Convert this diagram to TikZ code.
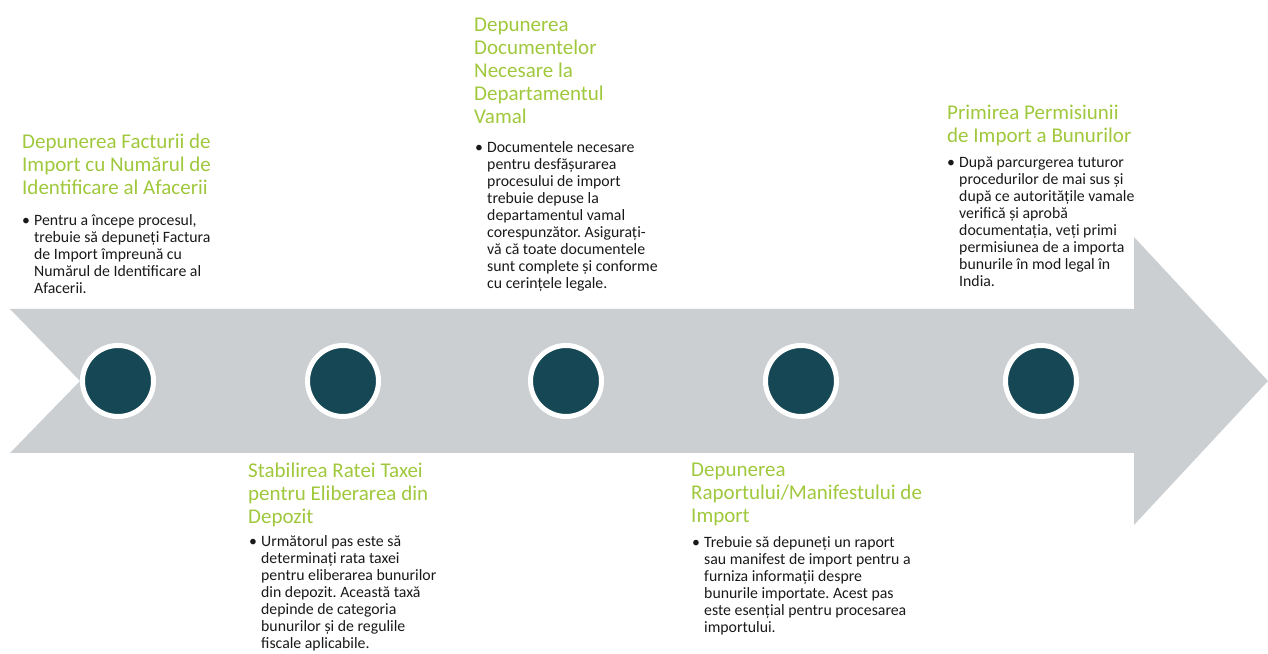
\documentclass[tikz,border=0pt]{standalone}
\usepackage{fontspec}
\setmainfont{Carlito}
\usetikzlibrary{positioning}
\frenchspacing
\definecolor{stepgreen}{RGB}{160,200,60}
\definecolor{stepteal}{RGB}{21,72,84}
\definecolor{arrowgrey}{RGB}{204,207,210}
\definecolor{bodyblack}{RGB}{25,25,25}
\newcommand{\bul}{\makebox[12pt][l]{\textbullet}}
\newcommand{\ind}{\hspace*{12pt}}
\tikzset{
  steptitle/.style={anchor=base west, inner sep=0pt, align=left, text=stepgreen,
    font=\fontsize{21}{23}\selectfont},
  stepbody/.style={anchor=base west, inner sep=0pt, align=left, text=bodyblack,
    font=\fontsize{15.8}{17}\selectfont},
  stepdot/.style={circle, fill=stepteal, draw=white, line width=5pt,
    minimum size=71pt, inner sep=0pt}
}

\begin{document}
\begin{tikzpicture}[x=1pt,y=1pt]
\useasboundingbox (0,0) rectangle (1268,653);

% Draw the big arrow
\fill[arrowgrey] (10,344) -- (1134,344) -- (1134,416) -- (1268,272)
  -- (1134,128) -- (1134,200) -- (10,200) -- (80,272) -- cycle;

% Circles on the arrow
\foreach \i/\x in {1/118,2/343,3/566,4/801,5/1041}
  \node[stepdot] (c\i) at (\x,272) {};

% Steps above the arrow (nodes sit on the baseline of their last line)
\node[steptitle] (t1) at (22,458) {Depunerea Facturii de\\Import cu Numărul de\\Identificare al Afacerii};
\node[stepbody] (b1) at (22,359) {\bul Pentru a începe procesul,\\\ind trebuie să depuneți Factura\\\ind de Import împreună cu\\\ind Numărul de Identificare al\\\ind Afacerii.};

\node[steptitle] (t3) at (474,529) {Depunerea\\Documentelor\\Necesare la\\Departamentul\\Vamal};
\node[stepbody] (b3) at (475,364) {\bul Documentele necesare\\\ind pentru desfășurarea\\\ind procesului de import\\\ind trebuie depuse la\\\ind departamentul vamal\\\ind corespunzător. Asigurați-\\\ind vă că toate documentele\\\ind sunt complete și conforme\\\ind cu cerințele legale.};

\node[steptitle] (t5) at (947,510) {Primirea Permisiunii\\de Import a Bunurilor};
\node[stepbody] (b5) at (947,366) {\bul După parcurgerea tuturor\\\ind procedurilor de mai sus și\\\ind după ce autoritățile vamale\\\ind verifică și aprobă\\\ind documentația, veți primi\\\ind permisiunea de a importa\\\ind bunurile în mod legal în\\\ind India.};

% Steps below the arrow
\node[steptitle] (t2) at (248,129) {Stabilirea Ratei Taxei\\pentru Eliberarea din\\Depozit};
\node[stepbody] (b2) at (249,5) {\bul Următorul pas este să\\\ind determinați rata taxei\\\ind pentru eliberarea bunurilor\\\ind din depozit. Această taxă\\\ind depinde de categoria\\\ind bunurilor și de regulile\\\ind fiscale aplicabile.};

\node[steptitle] (t4) at (691,130) {Depunerea\\Raportului/Manifestului de\\Import};
\node[stepbody] (b4) at (692,21) {\bul Trebuie să depuneți un raport\\\ind sau manifest de import pentru a\\\ind furniza informații despre\\\ind bunurile importate. Acest pas\\\ind este esențial pentru procesarea\\\ind importului.};

\end{tikzpicture}
\end{document}
